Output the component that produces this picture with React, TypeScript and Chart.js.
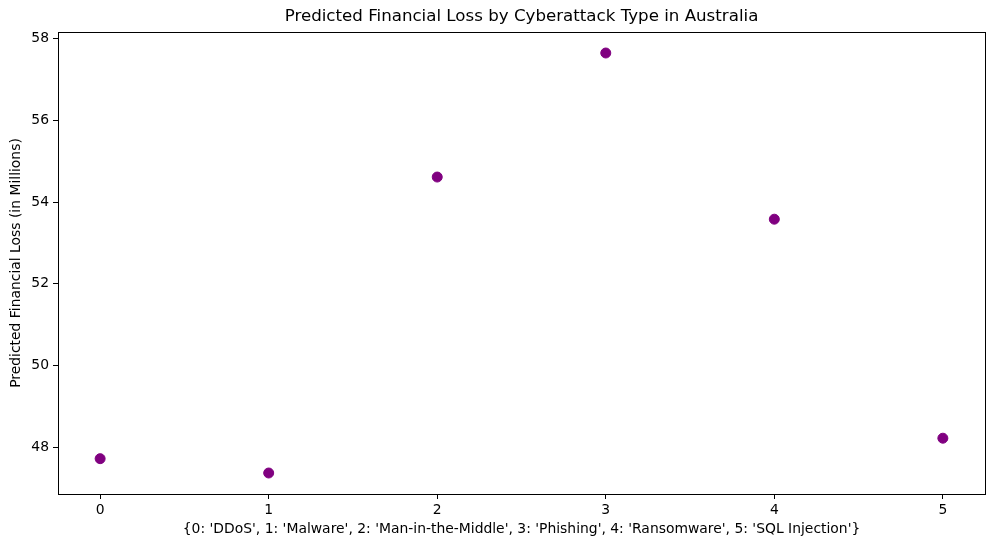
import React, { useEffect, useRef } from "react";
import { Chart, registerables } from "chart.js";

Chart.register(...registerables);

const categories = [0, 1, 2, 3, 4, 5];
const lossValues = [47.73, 47.38, 54.61, 57.64, 53.58, 48.23];
const xTicks = [0, 1, 2, 3, 4, 5];
const yTicks = [48, 50, 52, 54, 56, 58];

const chartTitle = "Predicted Financial Loss by Cyberattack Type in Australia";
const xLabel = "{0: 'DDoS', 1: 'Malware', 2: 'Man-in-the-Middle', 3: 'Phishing', 4: 'Ransomware', 5: 'SQL Injection'}";
const yLabel = "Predicted Financial Loss (in Millions)";

const FONT = "'DejaVu Sans', sans-serif";

const framePlugin = {
  id: "frame",
  afterDraw(chart: any) {
    const { ctx, chartArea } = chart;
    ctx.save();
    ctx.strokeStyle = "#000";
    ctx.lineWidth = 1;
    ctx.strokeRect(
      Math.round(chartArea.left) + 0.5,
      Math.round(chartArea.top) + 0.5,
      Math.round(chartArea.right - chartArea.left),
      Math.round(chartArea.bottom - chartArea.top)
    );
    // title centred over the plot area, as matplotlib does
    ctx.fillStyle = "#000";
    ctx.font = `16.67px ${FONT}`;
    ctx.textAlign = "center";
    ctx.textBaseline = "middle";
    ctx.fillText(chartTitle, (chartArea.left + chartArea.right) / 2, 17);
    ctx.restore();
  },
};

export default function App() {
  const ref = useRef<HTMLCanvasElement>(null);
  useEffect(() => {
    document.body.style.margin = "0";
    const canvas = ref.current!;
    const chart = new Chart(canvas, {
      type: "scatter",
      data: {
        datasets: [
          {
            data: categories.map((c, i) => ({ x: c, y: lossValues[i] })),
            backgroundColor: "#800080",
            borderColor: "#800080",
            borderWidth: 1,
            pointRadius: 5,
          },
        ],
      },
      options: {
        animation: false,
        responsive: false,
        devicePixelRatio: 1,
        layout: { padding: { left: 0, right: 11, top: 32, bottom: 0 } },
        plugins: {
          legend: { display: false },
          tooltip: { enabled: false },
          title: { display: false },
        },
        scales: {
          x: {
            type: "linear",
            min: -0.25,
            max: 5.25,
            afterBuildTicks: (s: any) => {
              s.ticks = xTicks.map((v) => ({ value: v }));
            },
            afterFit: (s: any) => {
              s.height = 53;
            },
            grid: { drawOnChartArea: false, drawTicks: true, tickLength: 5, color: "#000" },
            border: { display: true, color: "#000" },
            ticks: { color: "#000", font: { family: FONT, size: 13.9 }, padding: 3, maxRotation: 0 },
            title: {
              display: true,
              text: xLabel,
              color: "#000",
              font: { family: FONT, size: 13.9 },
              padding: { top: 3, bottom: 9 },
            },
          },
          y: {
            type: "linear",
            min: 46.867,
            max: 58.153,
            afterBuildTicks: (s: any) => {
              s.ticks = yTicks.map((v) => ({ value: v }));
            },
            afterFit: (s: any) => {
              s.width = 58;
            },
            grid: { drawOnChartArea: false, drawTicks: true, tickLength: 5, color: "#000" },
            border: { display: true, color: "#000" },
            ticks: { color: "#000", font: { family: FONT, size: 13.9 }, padding: 4 },
            title: {
              display: true,
              text: yLabel,
              color: "#000",
              font: { family: FONT, size: 13.9 },
              padding: { top: 8, bottom: 4 },
            },
          },
        },
      },
      plugins: [framePlugin],
    });
    return () => chart.destroy();
  }, []);
  return <canvas ref={ref} width={996} height={547} style={{ display: "block" }} />;
}
